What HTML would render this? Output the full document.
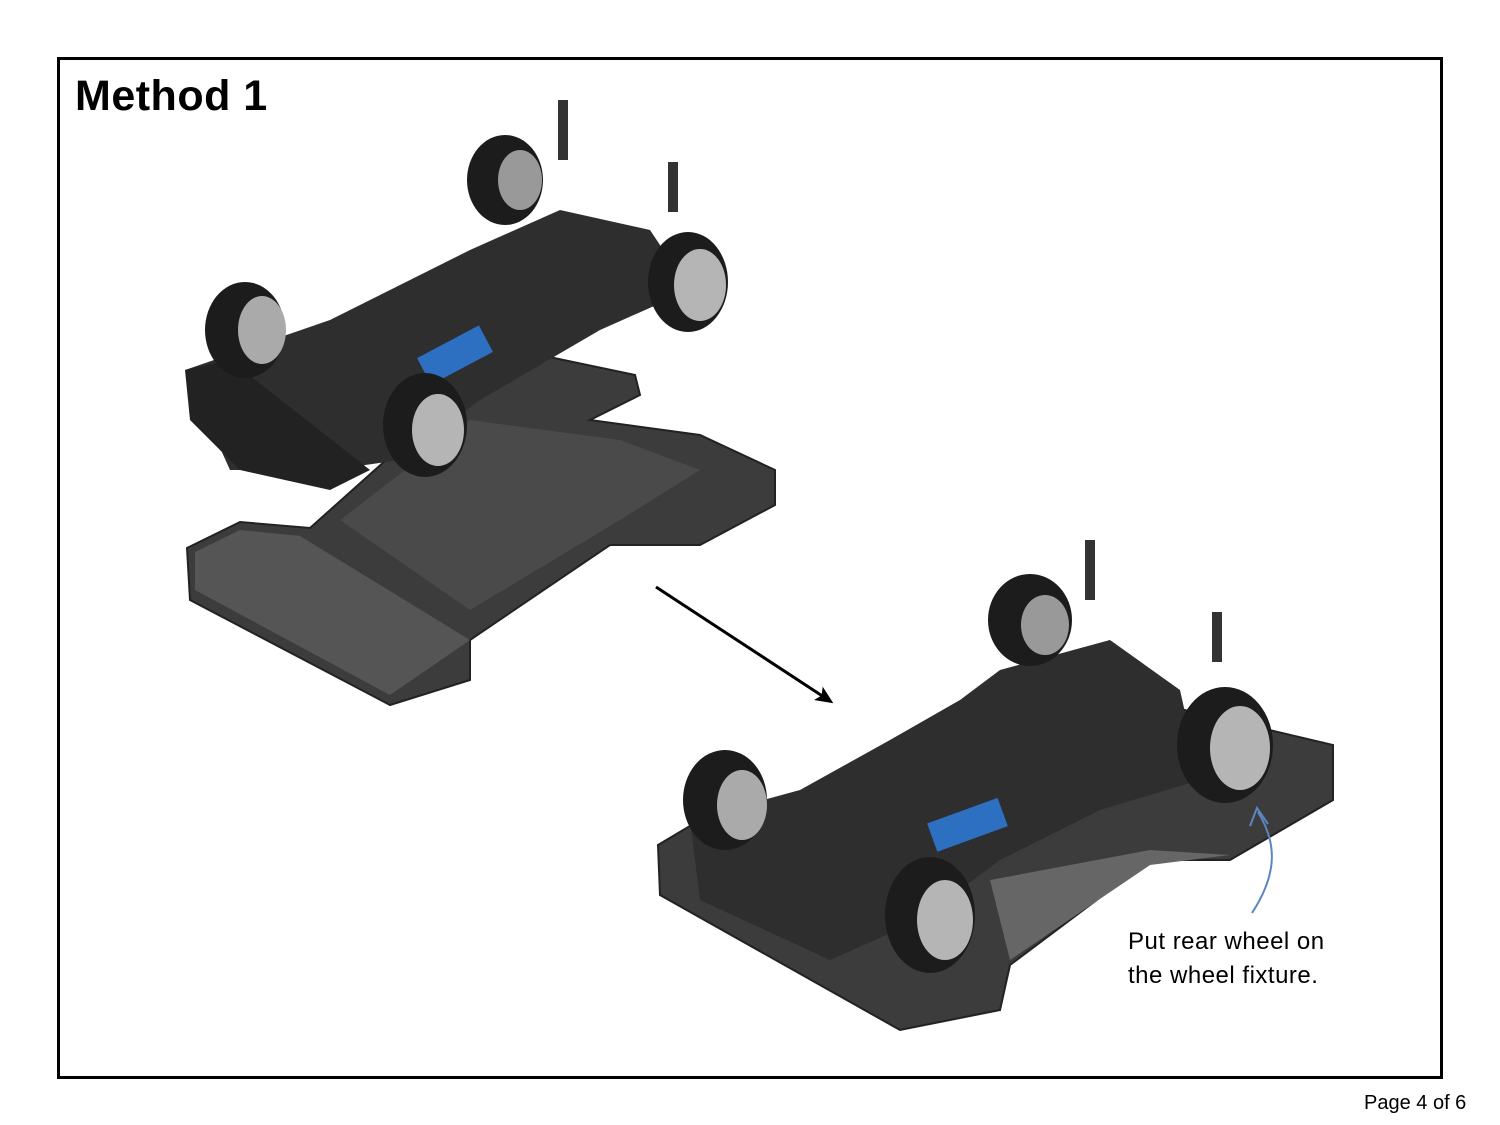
<!DOCTYPE html>
<html><head><meta charset="utf-8"><style>
html,body{margin:0;padding:0;background:#fff;}
body{width:1500px;height:1125px;position:relative;overflow:hidden;font-family:"Liberation Sans",sans-serif;}
.frame{position:absolute;left:57px;top:57px;width:1380px;height:1016px;border:3.5px solid #000;}
.t{position:absolute;color:#000;}
</style></head><body>
<div class="frame"></div>
<div class="t" style="left:75px;top:72px;font-size:43px;font-weight:bold;letter-spacing:0.5px;">Method 1</div>
<svg width="1500" height="1125" style="position:absolute;left:0;top:0">
<defs>
<marker id="ah" markerWidth="18" markerHeight="16" refX="14" refY="8" orient="auto" markerUnits="userSpaceOnUse"><path d="M0,0 L18,8 L0,16 L4,8 z" fill="#000"/></marker>
</defs>
<polygon points="187,548 240,522 310,528 470,385 540,355 635,375 640,395 590,420 700,435 775,470 775,505 700,545 610,545 470,640 470,680 390,705 190,600" fill="#3c3c3c" stroke="#222" stroke-width="2"/>
<polygon points="195,552 240,530 300,536 470,640 390,695 195,590" fill="#555"/>
<polygon points="340,520 470,420 620,440 700,470 620,520 470,610" fill="#4a4a4a"/>
<polygon points="185,370 330,320 470,250 560,210 650,230 690,290 600,330 480,400 400,460 330,470 230,470" fill="#2e2e2e"/>
<polygon points="185,370 230,360 370,470 330,490 240,470 190,420" fill="#222"/>
<rect x="420" y="340" width="70" height="30" fill="#2d6fc0" transform="rotate(-28 455 355)"/>
<ellipse cx="245" cy="330" rx="40" ry="48" fill="#1c1c1c"/><ellipse cx="262" cy="330" rx="24" ry="34" fill="#aaa"/>
<ellipse cx="425" cy="425" rx="42" ry="52" fill="#1c1c1c"/><ellipse cx="438" cy="430" rx="26" ry="36" fill="#b5b5b5"/>
<ellipse cx="505" cy="180" rx="38" ry="45" fill="#1c1c1c"/><ellipse cx="520" cy="180" rx="22" ry="30" fill="#999"/>
<ellipse cx="688" cy="282" rx="40" ry="50" fill="#1c1c1c"/><ellipse cx="700" cy="285" rx="26" ry="36" fill="#b5b5b5"/>
<rect x="558" y="100" width="10" height="60" fill="#333"/><rect x="668" y="162" width="10" height="50" fill="#333"/>
<polygon points="658,845 700,820 900,810 1000,700 1100,690 1333,745 1333,800 1230,860 1150,860 1010,965 1000,1010 900,1030 660,895" fill="#3c3c3c" stroke="#222" stroke-width="2"/>
<polygon points="990,880 1150,850 1230,855 1150,865 1010,960" fill="#666"/>
<polygon points="690,820 800,790 890,740 960,700 1000,670 1110,640 1180,690 1200,780 1100,810 1000,860 920,920 830,960 700,900" fill="#2e2e2e"/>
<rect x="930" y="810" width="75" height="30" fill="#2d6fc0" transform="rotate(-20 967 825)"/>
<ellipse cx="725" cy="800" rx="42" ry="50" fill="#1c1c1c"/><ellipse cx="742" cy="805" rx="25" ry="35" fill="#aaa"/>
<ellipse cx="930" cy="915" rx="45" ry="58" fill="#1c1c1c"/><ellipse cx="945" cy="920" rx="28" ry="40" fill="#b5b5b5"/>
<ellipse cx="1030" cy="620" rx="42" ry="46" fill="#1c1c1c"/><ellipse cx="1045" cy="625" rx="24" ry="30" fill="#999"/>
<ellipse cx="1225" cy="745" rx="48" ry="58" fill="#1c1c1c"/><ellipse cx="1240" cy="748" rx="30" ry="42" fill="#b5b5b5"/>
<rect x="1085" y="540" width="10" height="60" fill="#333"/><rect x="1212" y="612" width="10" height="50" fill="#333"/>
<line x1="656" y1="587" x2="830" y2="701" stroke="#000" stroke-width="3" marker-end="url(#ah)"/>
<path d="M1252,913 C1280,870 1275,840 1258,812" fill="none" stroke="#5b86c0" stroke-width="2"/>
<path d="M1250,826 L1257,808 L1268,824" fill="none" stroke="#5b86c0" stroke-width="2"/>
</svg>
<div class="t" style="left:1128px;top:925px;font-size:24px;line-height:34px;letter-spacing:0.5px;">Put rear wheel on<br>the wheel fixture.</div>
<div class="t" style="left:1364px;top:1092px;font-size:20px;">Page 4 of 6</div>
</body></html>
